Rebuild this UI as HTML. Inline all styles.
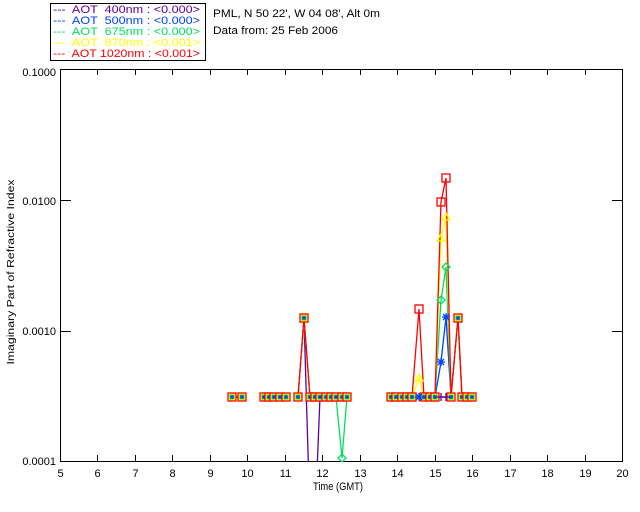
<!DOCTYPE html>
<html><head><meta charset="utf-8"><style>
body{margin:0;background:#fff;}
svg{display:block;font-family:"Liberation Sans",sans-serif;}
text{white-space:pre;}
</style></head><body>
<svg id="s" width="640" height="512" xmlns="http://www.w3.org/2000/svg" shape-rendering="crispEdges">
<defs><clipPath id="cp"><rect x="60" y="69" width="563" height="393"/></clipPath></defs>
<rect width="640" height="512" fill="#fff"/>
<rect x="50.5" y="3.5" width="155" height="57" fill="none" stroke="#000"/>
<g font-size="11">
<text x="53" y="13" fill="#6000a0" textLength="147" lengthAdjust="spacingAndGlyphs">---  AOT  400nm : &lt;0.000&gt;</text>
<text x="53" y="24" fill="#0040ff" textLength="147" lengthAdjust="spacingAndGlyphs">---  AOT  500nm : &lt;0.000&gt;</text>
<text x="53" y="35" fill="#00e060" textLength="147" lengthAdjust="spacingAndGlyphs">---  AOT  675nm : &lt;0.000&gt;</text>
<text x="53" y="46" fill="#ffff00" textLength="147" lengthAdjust="spacingAndGlyphs">---  AOT  870nm : &lt;0.001&gt;</text>
<text x="53" y="57" fill="#ff0000" textLength="147" lengthAdjust="spacingAndGlyphs">---  AOT 1020nm : &lt;0.001&gt;</text>
<text x="213" y="17" fill="#000" textLength="167" lengthAdjust="spacingAndGlyphs">PML, N 50 22', W 04 08', Alt 0m</text>
<text x="213" y="34" fill="#000" textLength="125" lengthAdjust="spacingAndGlyphs">Data from: 25 Feb 2006</text>
<text x="56" y="76" text-anchor="end">0.1000</text>
<text x="56" y="205" text-anchor="end">0.0100</text>
<text x="56" y="335" text-anchor="end">0.0010</text>
<text x="56" y="465" text-anchor="end">0.0001</text>
<text x="338" y="490" text-anchor="middle" textLength="50" lengthAdjust="spacingAndGlyphs">Time (GMT)</text>
<text transform="translate(14,272) rotate(-90)" text-anchor="middle" font-size="10" textLength="185" lengthAdjust="spacingAndGlyphs">Imaginary Part of Refractive Index</text>
</g>
<rect x="60.5" y="69.5" width="562" height="392" fill="none" stroke="#000"/>
<g id="ticks" stroke="#000"></g>
<g id="xl" font-size="11" text-anchor="middle"></g>
<g id="data" fill="none" stroke-width="1.3" shape-rendering="auto" clip-path="url(#cp)"></g>
</svg>
<script>
const NS="http://www.w3.org/2000/svg";
function el(p,t,a){const e=document.createElementNS(NS,t);for(const k in a)e.setAttribute(k,a[k]);p.appendChild(e);return e;}
const T=document.getElementById('ticks'),XL=document.getElementById('xl'),D=document.getElementById('data');
for(let h=5;h<=20;h++){const x=Math.round(60+(h-5)*37.47)+0.5;
 el(T,'line',{x1:x,y1:461,x2:x,y2:455});el(T,'line',{x1:x,y1:69,x2:x,y2:75});
 const t=el(XL,'text',{x:x,y:477});t.textContent=h;}
[69,200,331,461].forEach(y=>{y+=0.5;el(T,'line',{x1:60,y1:y,x2:71,y2:y});el(T,'line',{x1:622,y1:y,x2:612,y2:y});});
const B=397;
const segs=[[232,242],[264,269,274,280,286],[298,304,310,315,320,326,331,336,342,347],[391,396,402,407,412,419,424,430,435,441,446,451,458,462,467,472]];
const peaks={
 red:{304:318,419:309,441:202,446:178,458:318},
 yellow:{304:318,419:378,441:238,446:217,458:318},
 green:{304:318,441:300,446:267,458:318,342:458},
 blue:{304:318,441:362,446:317,458:318},
 purple:{304:318,310:520,315:520,458:318}
};
const cols={purple:'#6000a0',blue:'#0040ff',green:'#00e060',yellow:'#ffff00',red:'#ff0000'};
['purple','blue','green','yellow','red'].forEach(c=>{
 segs.forEach(s=>{const pts=s.map(x=>x+','+(peaks[c][x]!==undefined?peaks[c][x]:B)).join(' ');
  el(D,'polyline',{points:pts,stroke:cols[c]});});
});
segs.flat().forEach(x=>{
 const y=(x==304||x==458)?318:B;
 if(x==419||x==441||x==446) return;
 el(D,'rect',{x:x-4,y:y-4,width:8,height:8,fill:'#ffff00',stroke:'#ff0000','stroke-width':1.3});
 el(D,'rect',{x:x-2,y:y-2,width:4,height:4,fill:'#0040ff',stroke:'#00e060','stroke-width':0.8});
});
[[419,309],[441,202],[446,178]].forEach(p=>el(D,'rect',{x:p[0]-4,y:p[1]-4,width:8,height:8,stroke:'#ff0000'}));
[[419,378],[441,238],[446,217]].forEach(p=>el(D,'path',{d:`M${p[0]-4} ${p[1]+3}L${p[0]} ${p[1]-4}L${p[0]+4} ${p[1]+3}Z`,stroke:'#ffff00'}));
[[441,300],[446,267],[342,458]].forEach(p=>el(D,'path',{d:`M${p[0]} ${p[1]-4}L${p[0]+4} ${p[1]}L${p[0]} ${p[1]+4}L${p[0]-4} ${p[1]}Z`,stroke:'#00e060'}));
[[441,362],[446,317],[419,397]].forEach(p=>{const x=p[0],y=p[1];el(D,'path',{d:`M${x-4} ${y}H${x+4}M${x} ${y-4}V${y+4}M${x-3} ${y-3}L${x+3} ${y+3}M${x+3} ${y-3}L${x-3} ${y+3}`,stroke:'#0040ff'});});
[[441,397],[446,397]].forEach(p=>el(D,'path',{d:`M${p[0]-4} ${p[1]}H${p[0]+4}M${p[0]} ${p[1]-4}V${p[1]+4}`,stroke:'#6000a0'}));
</script>
</body></html>
